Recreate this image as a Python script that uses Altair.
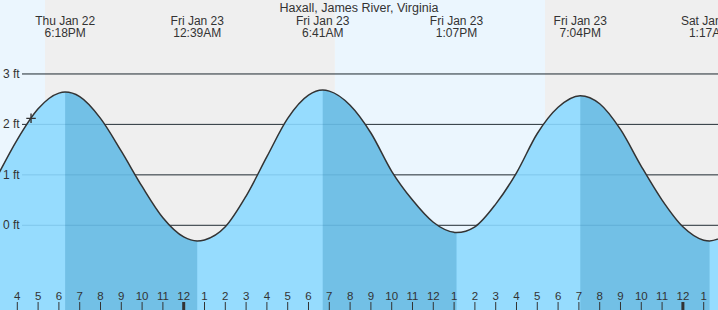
import altair as alt
import pandas as pd

W, H = 718, 310
X_DOMAIN = [-8.832, 25.688]   # hours relative to Fri Jan 23 00:00
Y_DOMAIN = [-1.679, 4.466]    # feet
FONT = "Liberation Sans"
TXT = "#333333"

title_text = "Haxall, James River, Virginia"

# tide curve (hours from midnight Jan 23, feet)
curve_hours = [-9, -8, -7, -6, -5, -4, -3, -2, -1, 0,
               1, 2, 3, 4, 5, 6, 7, 8, 9, 10, 11, 12, 13,
               14, 15, 16, 17, 18, 20, 21, 22, 23, 24, 25, 26]
curve_feet = [0.94, 1.70, 2.31, 2.62, 2.55, 2.12, 1.47, 0.77, 0.15, -0.23,
              -0.29, -0.03, 0.58, 1.36, 2.12, 2.58, 2.66, 2.38, 1.83, 1.07, 0.50, 0.06, -0.14,
              -0.03, 0.42, 1.04, 1.82, 2.34, 2.41, 1.90, 1.17, 0.50, -0.03, -0.295, -0.22]

# high / low tides
extreme_hours = [-5.70, 0.65, 6.683, 13.117, 19.067, 25.283]
extreme_feet = [2.64, -0.31, 2.68, -0.145, 2.57, -0.31]
extreme_kind = ["H", "L", "H", "L", "H", "L"]
extreme_dates = ["Thu Jan 22", "Fri Jan 23", "Fri Jan 23", "Fri Jan 23", "Fri Jan 23", "Sat Jan 24"]
extreme_clock = ["6:18PM", "12:39AM", "6:41AM", "1:07PM", "7:04PM", "1:17AM"]

# daylight: sunset Jan 22, sunrise Jan 23, sunset Jan 23
sun_hours = [-6.67, 7.27, 17.37]

grid_feet = [3, 2, 1, 0]
grid_labels = ["3 ft", "2 ft", "1 ft", "0 ft"]

hour_ticks = list(range(-8, 26))
hour_labels = [str((h % 12) or 12) for h in hour_ticks]
midnight_ticks = [0, 24]

now_hour, now_feet = -7.34, 2.12

# ---------- tables ----------
curve = pd.DataFrame({"t": curve_hours + extreme_hours,
                      "ft": curve_feet + extreme_feet}).sort_values("t").reset_index(drop=True)

dark_parts = []
for i, k in enumerate(extreme_kind):
    if k == "H" and i + 1 < len(extreme_hours):
        a, b = extreme_hours[i], extreme_hours[i + 1]
        part = curve[(curve.t >= a - 1e-9) & (curve.t <= b + 1e-9)].copy()
        part["seg"] = i
        dark_parts.append(part)
dark = pd.concat(dark_parts, ignore_index=True)

bg = pd.DataFrame({
    "a": [X_DOMAIN[0] - 1, sun_hours[0], sun_hours[1], sun_hours[2]],
    "b": [sun_hours[0], sun_hours[1], sun_hours[2], X_DOMAIN[1] + 1],
    "c": ["#ebf6fe", "#efefef", "#ebf6fe", "#efefef"],
})
grid = pd.DataFrame({"ft": grid_feet, "lab": grid_labels})
ticks = pd.DataFrame({"t": hour_ticks, "lab": hour_labels})
mid = pd.DataFrame({"t": midnight_ticks})
ext = pd.DataFrame({"t": extreme_hours, "d": extreme_dates, "c": extreme_clock})
now = pd.DataFrame({"t": [now_hour], "ft": [now_feet]})

xs = alt.Scale(domain=X_DOMAIN, nice=False, zero=False)
ys = alt.Scale(domain=Y_DOMAIN, nice=False, zero=False)
X = alt.X("t:Q", scale=xs, axis=None)
Y = alt.Y("ft:Q", scale=ys, axis=None)

background = alt.Chart(bg).mark_rect(clip=True).encode(
    x=alt.X("a:Q", scale=xs, axis=None), x2="b:Q",
    y=alt.value(0), y2=alt.value(H),
    color=alt.Color("c:N", scale=None))

grid_rules = alt.Chart(grid).mark_rule(color="#333333", strokeWidth=1).encode(
    x=alt.value(22), x2=alt.value(W), y=Y)

light_area = alt.Chart(curve).mark_area(interpolate="monotone", color="#96dcfe", clip=True).encode(
    x=X, y=alt.Y("ft:Q", scale=ys, axis=None, stack=None), y2=alt.value(H))

dark_area = alt.Chart(dark).mark_area(interpolate="monotone", color="#72c0e6", clip=True).encode(
    x=X, y=alt.Y("ft:Q", scale=ys, axis=None, stack=None), y2=alt.value(H), detail="seg:N")

grid_faint = alt.Chart(grid).mark_rule(color="#00507f", opacity=0.15, strokeWidth=1).encode(
    x=alt.value(22), x2=alt.value(W), y=Y)

tide_line = alt.Chart(curve).mark_line(interpolate="monotone", color="#333333",
                                       strokeWidth=1.5, clip=True).encode(x=X, y=Y)

now_mark = alt.Chart(now).mark_point(shape="M-1,0L1,0M0,-1L0,1", size=90, filled=False,
                                     stroke="#333333", strokeWidth=1.4, opacity=1).encode(x=X, y=Y)

y_labels = alt.Chart(grid).mark_text(align="left", baseline="middle", font=FONT,
                                     fontSize=12, color=TXT).encode(
    x=alt.value(3), y=Y, text="lab:N")

tick_rules = alt.Chart(ticks).mark_rule(color="#333333", strokeWidth=1).encode(
    x=X, y=alt.value(302), y2=alt.value(H))
mid_rules = alt.Chart(mid).mark_rule(color="#333333", strokeWidth=3).encode(
    x=X, y=alt.value(302), y2=alt.value(H))
tick_labels = alt.Chart(ticks).mark_text(align="center", baseline="alphabetic", font=FONT,
                                         fontSize=11.5, color=TXT).encode(
    x=X, y=alt.value(300), text="lab:N")

date_labels = alt.Chart(ext).mark_text(align="center", baseline="alphabetic", font=FONT,
                                       fontSize=12, color=TXT).encode(
    x=X, y=alt.value(24.5), text="d:N")
clock_labels = alt.Chart(ext).mark_text(align="center", baseline="alphabetic", font=FONT,
                                        fontSize=12, color=TXT).encode(
    x=X, y=alt.value(36.5), text="c:N")
title = alt.Chart(pd.DataFrame({"s": [title_text]})).mark_text(
    align="center", baseline="alphabetic", font=FONT, fontSize=12.5, color=TXT).encode(
    x=alt.value(W / 2), y=alt.value(12.3), text="s:N")

chart = alt.layer(
    background, grid_rules, light_area, dark_area, grid_faint, tide_line, now_mark,
    y_labels, tick_rules, mid_rules, tick_labels, date_labels, clock_labels, title
).properties(
    width=W, height=H, padding=0, autosize=alt.AutoSizeParams(type="none")
).configure_view(stroke=None)

chart.save("out.html", embed_options={"renderer": "svg", "actions": False})
